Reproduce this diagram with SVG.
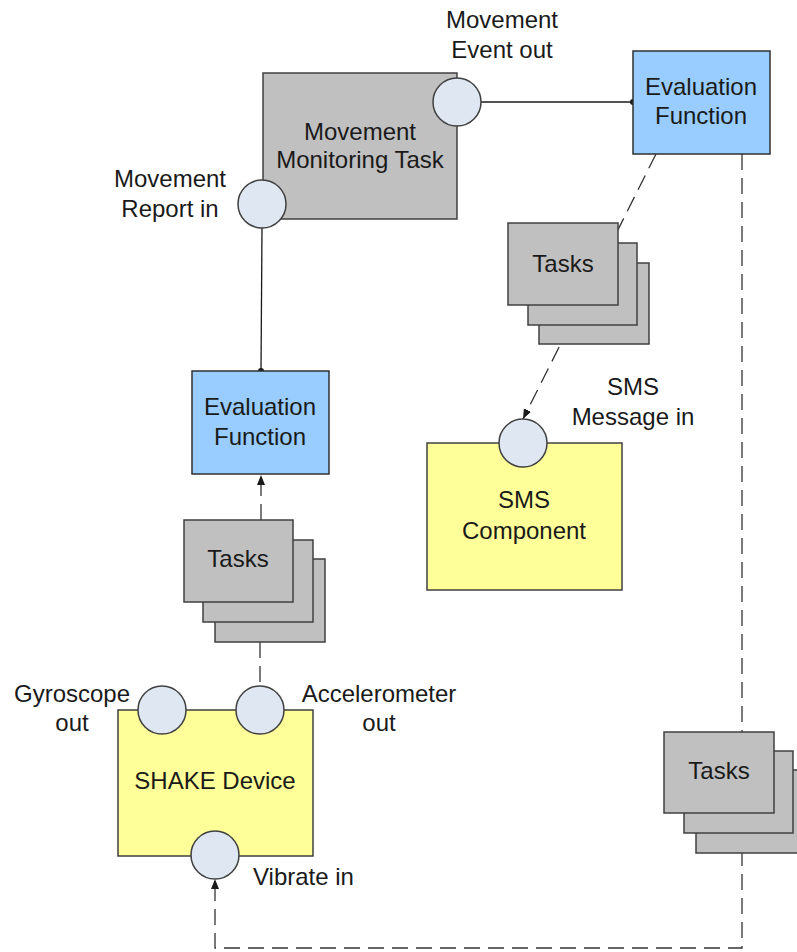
<svg xmlns="http://www.w3.org/2000/svg" width="797" height="952" viewBox="0 0 797 952">
<defs>
<style>
text{font-family:"Liberation Sans",Arial,sans-serif;font-size:24px;fill:#1a1a1a}
.c{text-anchor:middle}
.task{fill:#c0c0c0;stroke:#404040;stroke-width:1.5}
.eval{fill:#99ccff;stroke:#303030;stroke-width:1.5}
.comp{fill:#ffff99;stroke:#404040;stroke-width:1.5}
.port{fill:#dfe7f2;stroke:#404040;stroke-width:1.5}
.solid{fill:none;stroke:#1a1a1a;stroke-width:1.3}
.dash{fill:none;stroke:#333;stroke-width:1.3;stroke-dasharray:16 8}
</style>
<marker id="arr" viewBox="0 0 10 10" refX="10" refY="5" markerWidth="10" markerHeight="10" markerUnits="userSpaceOnUse" orient="auto">
<path d="M0,1 L10,5 L0,9 Z" fill="#1a1a1a"/>
</marker>
</defs>
<rect width="797" height="952" fill="#fff"/>

<g id="connectors">
<line class="solid" x1="481" y1="102" x2="633" y2="102"/>
<circle cx="633" cy="102" r="3" fill="#1a1a1a"/>
<line class="solid" x1="262" y1="228" x2="261" y2="371"/>
<circle cx="261" cy="371" r="3" fill="#1a1a1a"/>
<line class="dash" x1="656" y1="154" x2="523" y2="419" marker-end="url(#arr)"/>
<line class="dash" x1="261" y1="520" x2="261" y2="475" marker-end="url(#arr)"/>
<line class="dash" x1="260" y1="642" x2="260" y2="686"/>
<polyline class="dash" points="742,154 742,948 215,948 215,879" marker-end="url(#arr)"/>
</g>

<g id="movement-monitoring-task">
<rect class="task" x="263" y="73" width="194" height="146"/>
<text class="c" x="360" y="140">Movement</text>
<text class="c" x="360" y="168">Monitoring Task</text>
</g>
<g id="port-movement-event-out">
<circle class="port" cx="457" cy="102" r="24"/>
<text class="c" x="502" y="28">Movement</text>
<text class="c" x="502" y="58">Event out</text>
</g>
<g id="port-movement-report-in">
<circle class="port" cx="262" cy="204" r="24"/>
<text class="c" x="170" y="187">Movement</text>
<text class="c" x="170" y="217">Report in</text>
</g>

<g id="eval-function-right">
<rect class="eval" x="633" y="51" width="137" height="103"/>
<text class="c" x="701" y="95">Evaluation</text>
<text class="c" x="701" y="124">Function</text>
</g>

<g id="tasks-top">
<rect class="task" x="539" y="263" width="110" height="81"/>
<rect class="task" x="528" y="243" width="109" height="82"/>
<rect class="task" x="508" y="223" width="110" height="82"/>
<text class="c" x="563" y="272">Tasks</text>
</g>

<g id="sms-component">
<rect class="comp" x="427" y="443" width="195" height="147"/>
<text class="c" x="524" y="508">SMS</text>
<text class="c" x="524" y="539">Component</text>
</g>
<g id="port-sms-message-in">
<circle class="port" cx="523" cy="443" r="24"/>
<text class="c" x="633" y="395">SMS</text>
<text class="c" x="633" y="425">Message in</text>
</g>

<g id="eval-function-left">
<rect class="eval" x="192" y="371" width="137" height="103"/>
<text class="c" x="260" y="415">Evaluation</text>
<text class="c" x="260" y="445">Function</text>
</g>

<g id="tasks-left">
<rect class="task" x="215" y="559" width="110" height="83"/>
<rect class="task" x="203" y="540" width="110" height="82"/>
<rect class="task" x="184" y="520" width="109" height="82"/>
<text class="c" x="238" y="567">Tasks</text>
</g>

<g id="shake-device">
<rect class="comp" x="118" y="710" width="195" height="146"/>
<text class="c" x="215" y="789">SHAKE Device</text>
</g>
<g id="port-gyroscope-out">
<circle class="port" cx="162" cy="710" r="24"/>
<text class="c" x="72" y="702">Gyroscope</text>
<text class="c" x="72" y="731">out</text>
</g>
<g id="port-accelerometer-out">
<circle class="port" cx="260" cy="710" r="24"/>
<text class="c" x="379" y="702">Accelerometer</text>
<text class="c" x="379" y="731">out</text>
</g>
<g id="port-vibrate-in">
<circle class="port" cx="215" cy="855" r="24"/>
<text x="253" y="885">Vibrate in</text>
</g>

<g id="tasks-bottom-right">
<rect class="task" x="696" y="770" width="110" height="83"/>
<rect class="task" x="684" y="751" width="109" height="82"/>
<rect class="task" x="664" y="732" width="110" height="81"/>
<text class="c" x="719" y="779">Tasks</text>
</g>
</svg>
